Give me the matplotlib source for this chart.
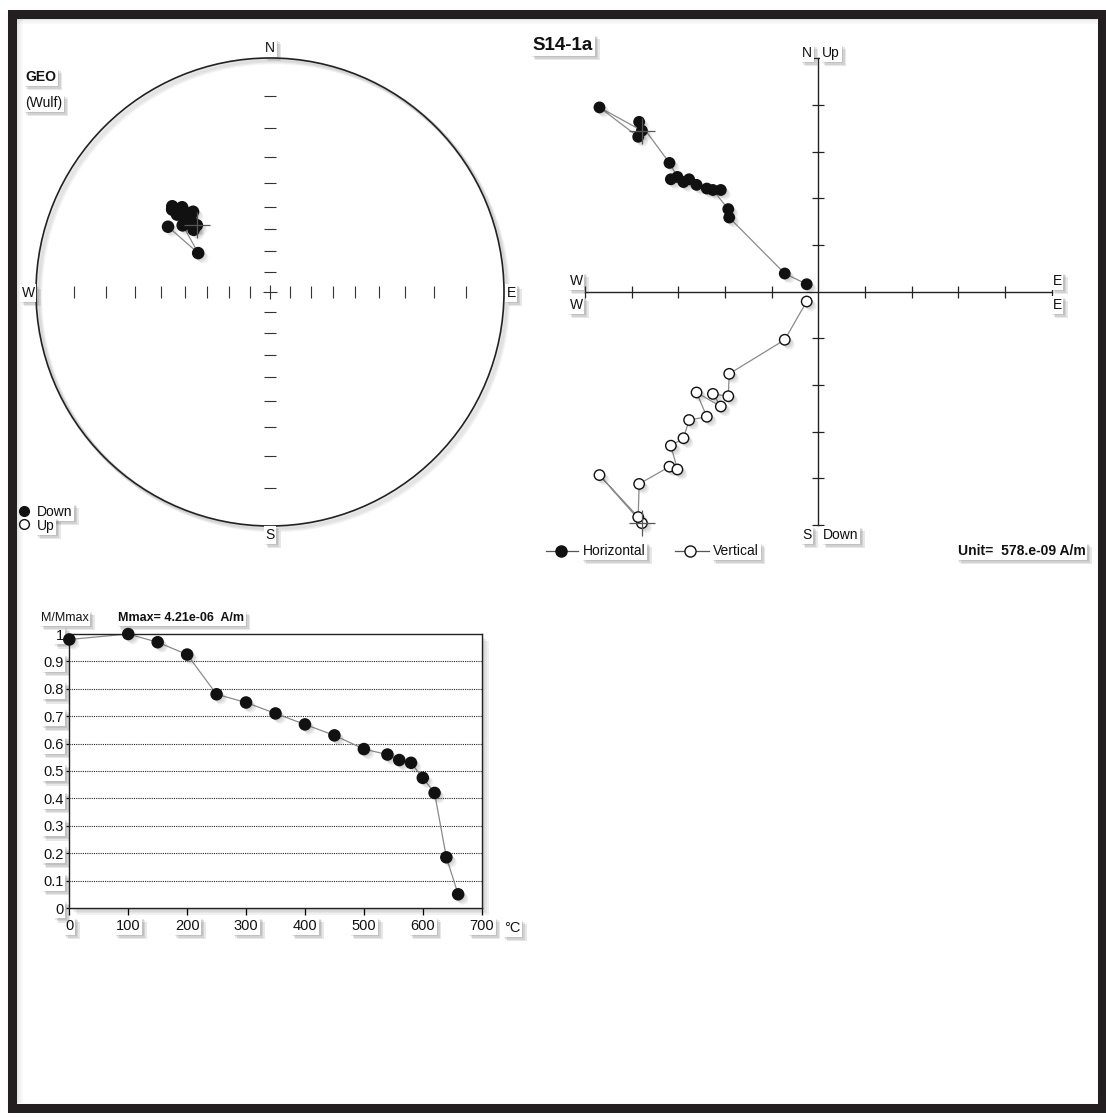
import numpy as np
import matplotlib
matplotlib.use("Agg")
import matplotlib.pyplot as plt
import matplotlib.patheffects as pe
from matplotlib.patches import Rectangle, Circle
from matplotlib.lines import Line2D

plt.rcParams['font.family'] = ['Liberation Sans', 'DejaVu Sans']

# thermal demagnetisation steps (deg C)
steps = [0, 100, 150, 200, 250, 300, 350, 400, 450, 500, 540, 560, 580, 600, 620, 640, 660]

# remanence components, in multiples of the plot unit (578e-9 A/m)
north = [3.45, 3.95, 3.32, 3.64, 2.76, 2.46, 2.41, 2.35, 2.41, 2.21, 2.29, 2.18, 2.18, 1.77, 1.59, 0.39, 0.16]
east = [-3.78, -4.69, -3.86, -3.84, -3.19, -3.02, -3.16, -2.89, -2.77, -2.39, -2.61, -2.09, -2.26, -1.93, -1.91, -0.72, -0.25]
down = [4.96, 3.93, 4.83, 4.12, 3.75, 3.81, 3.30, 3.14, 2.75, 2.68, 2.16, 2.46, 2.19, 2.24, 1.76, 1.03, 0.21]

# normalised intensity M/Mmax
m_norm = [0.98, 1.0, 0.97, 0.925, 0.78, 0.75, 0.71, 0.67, 0.63, 0.58, 0.56, 0.54, 0.53, 0.475, 0.42, 0.185, 0.05]

sample = "S14-1a"
unit_text = "Unit=  578.e-09 A/m"
mmax_text = "Mmax= 4.21e-06  A/m"
temp_ticks = [0, 100, 200, 300, 400, 500, 600, 700]
m_ticks = [0, 0.1, 0.2, 0.3, 0.4, 0.5, 0.6, 0.7, 0.8, 0.9, 1.0]
m_tick_labels = ['0', '0.1', '0.2', '0.3', '0.4', '0.5', '0.6', '0.7', '0.8', '0.9', '1']
net_ticks_deg = [10, 20, 30, 40, 50, 60, 70, 80]

W, H = 1106, 1119
fig = plt.figure(figsize=(W / 100, H / 100), dpi=100)
fig.patch.set_facecolor('white')

LINE = '#8a8a8a'
INK = '#111111'
FS = 10


def soft_shadow(n=3, step=1.1, alpha=0.12, color='0.25'):
    fx = [pe.SimplePatchShadow(offset=(step * (i + 1), -step * (i + 1)),
                               shadow_rgbFace=color, alpha=alpha) for i in range(n)]
    return fx + [pe.Normal()]


def box(x0, y0, x1, y1):
    return fig.add_axes([x0 / W, 1 - y1 / H, (x1 - x0) / W, (y1 - y0) / H])


def boxed(t):
    t.set_bbox(dict(boxstyle='square,pad=0.12', fc='white', ec='none'))
    t.get_bbox_patch().set_path_effects(soft_shadow())
    return t


def put(x, y, s, size=FS, ha='center', **kw):
    t = fig.text(x / W, 1 - y / H, s, size=size, ha=ha, va='center', color=INK, zorder=5, **kw)
    return boxed(t)


def fig_mark(xs, y, mid, filled):
    ln = Line2D([x / W for x in xs], [1 - y / H] * len(xs), transform=fig.transFigure,
                color='#555555', lw=0.9, marker='o', markevery=[mid], ms=8,
                mfc=INK if filled else 'white', mec=INK, mew=1)
    fig.add_artist(ln)


# outer frame
fig.add_artist(Rectangle((11.5 / W, 1 - 1108 / H), 1090 / W, 1094.5 / H, transform=fig.transFigure,
                         fill=False, ec='#231f20', lw=6.5, zorder=10))
for k, a in enumerate([0.14, 0.08, 0.04]):
    fig.add_artist(Line2D([18 / W, 1096 / W], [1 - (19 + 2 * k) / H] * 2, transform=fig.transFigure,
                          color='0.4', alpha=a, lw=1.5))
    fig.add_artist(Line2D([(18 + 2 * k) / W] * 2, [1 - 19 / H, 1 - 1102 / H], transform=fig.transFigure,
                          color='0.4', alpha=a, lw=1.5))

# ---- equal-angle (Wulff) stereonet ----
north_a = np.array(north)
east_a = np.array(east)
down_a = np.array(down)
dec = np.arctan2(east_a, north_a)
inc = np.arctan2(down_a, np.hypot(north_a, east_a))
r = np.tan((np.pi / 2 - np.abs(inc)) / 2)
sx, sy = r * np.sin(dec), r * np.cos(dec)

ax_s = box(36, 58, 504, 526)
ax_s.set_xlim(-1, 1)
ax_s.set_ylim(-1, 1)
ax_s.axis('off')
ring_fx = [pe.SimpleLineShadow(offset=(0.8 * (i + 1), -0.8 * (i + 1)), shadow_color='0.35',
                               alpha=0.07, linewidth=2.5) for i in range(4)]
ax_s.add_patch(Circle((0, 0), 1, fill=False, ec='#222222', lw=1.2, clip_on=False,
                      path_effects=ring_fx + [pe.Normal()]))
rt = np.tan(np.radians(net_ticks_deg) / 2)
tk = dict(color='#333333', mew=0.8, ls='none', clip_on=False)
ax_s.plot(np.r_[-rt, rt], np.zeros(2 * len(rt)), '|', ms=8.5, **tk)
ax_s.plot(np.zeros(2 * len(rt)), np.r_[-rt, rt], '_', ms=8.5, **tk)
ax_s.plot([0], [0], '+', ms=9.5, **tk)
ax_s.plot(sx, sy, color=LINE, lw=0.9)
ax_s.plot(sx, sy, 'o', ls='none', ms=8, mfc=INK, mec=INK, path_effects=soft_shadow(alpha=0.08))
ax_s.plot(sx[0], sy[0], '+', ms=19, color='#555555', mew=0.9)

put(270, 48, "N")
put(270, 535, "S")
put(28, 293, "W")
put(511, 293, "E")
put(25, 77, "GEO", ha='left', weight='bold')
put(25, 103, "(Wulf)", ha='left')
fig.add_artist(Line2D([24 / W], [1 - 511 / H], transform=fig.transFigure, marker='o', ms=7,
                      mfc=INK, mec=INK, ls='none'))
fig.add_artist(Line2D([24 / W], [1 - 524 / H], transform=fig.transFigure, marker='o', ms=7,
                      mfc='white', mec=INK, ls='none'))
put(37, 512, "Down", ha='left')
put(37, 526, "Up", ha='left')

# ---- Zijderveld diagram ----
ax_z = box(585, 58.4, 1051.7, 525)
ax_z.set_xlim(-5, 5)
ax_z.set_ylim(-5, 5)
ax_z.patch.set_alpha(0)
for side in ['top', 'right']:
    ax_z.spines[side].set_visible(False)
ax_z.spines['left'].set_position(('data', 0))
ax_z.spines['bottom'].set_position(('data', 0))
for side in ['left', 'bottom']:
    ax_z.spines[side].set_linewidth(1.0)
    ax_z.spines[side].set_color('#222222')
ticks = [-5, -4, -3, -2, -1, 1, 2, 3, 4, 5]
ax_z.set_xticks(ticks)
ax_z.set_yticks(ticks)
ax_z.tick_params(direction='inout', length=8, width=0.9, color='#222222',
                 labelbottom=False, labelleft=False)
vert = -down_a
ax_z.plot(east_a, north_a, color=LINE, lw=0.9)
ax_z.plot(east_a, vert, color=LINE, lw=0.9)
ax_z.plot(east_a, north_a, 'o', ls='none', ms=7.5, mfc=INK, mec=INK, clip_on=False,
          path_effects=soft_shadow(alpha=0.09))
ax_z.plot(east_a, vert, 'o', ls='none', ms=7.5, mfc='white', mec=INK, mew=1, clip_on=False,
          path_effects=soft_shadow(alpha=0.09))
ax_z.plot([east_a[0], east_a[0]], [north_a[0], vert[0]], '+', ls='none', ms=19, color='#555555',
          mew=0.9, clip_on=False)

put(563, 45, sample, size=13.5, weight='bold')
put(807, 53, "N")
put(831, 53, "Up")
put(807, 535, "S")
put(841, 535, "Down")
put(576, 281, "W")
put(576, 305, "W")
put(1057, 281, "E")
put(1057, 305, "E")
fig_mark([546, 561, 578], 551, 1, True)
put(583, 551, "Horizontal", ha='left')
fig_mark([675, 690, 709], 551, 1, False)
put(713, 551, "Vertical", ha='left')
put(958, 551, unit_text, ha='left', weight='bold')

# ---- demagnetisation curve ----
ax_d = box(69.3, 634, 481.7, 908)
ax_d.set_xlim(0, 700)
ax_d.set_ylim(0, 1)
ax_d.patch.set_path_effects(soft_shadow(n=4, step=1.3, alpha=0.07))
for sp in ax_d.spines.values():
    sp.set_linewidth(1.0)
    sp.set_color('#222222')
ax_d.set_xticks(temp_ticks)
ax_d.set_yticks(m_ticks)
ax_d.set_yticklabels(m_tick_labels)
ax_d.tick_params(axis='x', direction='out', length=5, width=0.9, labelsize=10.5, pad=3)
ax_d.tick_params(axis='y', direction='out', length=2, width=0.9, labelsize=10.5, pad=2)
for lbl in ax_d.get_xticklabels() + ax_d.get_yticklabels():
    lbl.set_color(INK)
    boxed(lbl)
for v in m_ticks[1:-1]:
    ax_d.axhline(v, color='#222222', lw=0.8, ls=(0, (1, 1)))
ax_d.plot(steps, m_norm, color=LINE, lw=0.9, clip_on=False)
ax_d.plot(steps, m_norm, 'o', ls='none', ms=8, mfc=INK, mec=INK, clip_on=False, zorder=4,
          path_effects=soft_shadow(alpha=0.09))
put(41, 618, "M/Mmax", ha='left', size=9)
put(118, 618, mmax_text, ha='left', size=9, weight='bold')
put(512, 928, "°C", size=10.5)

fig.savefig("out.png", dpi=100, facecolor='white')
